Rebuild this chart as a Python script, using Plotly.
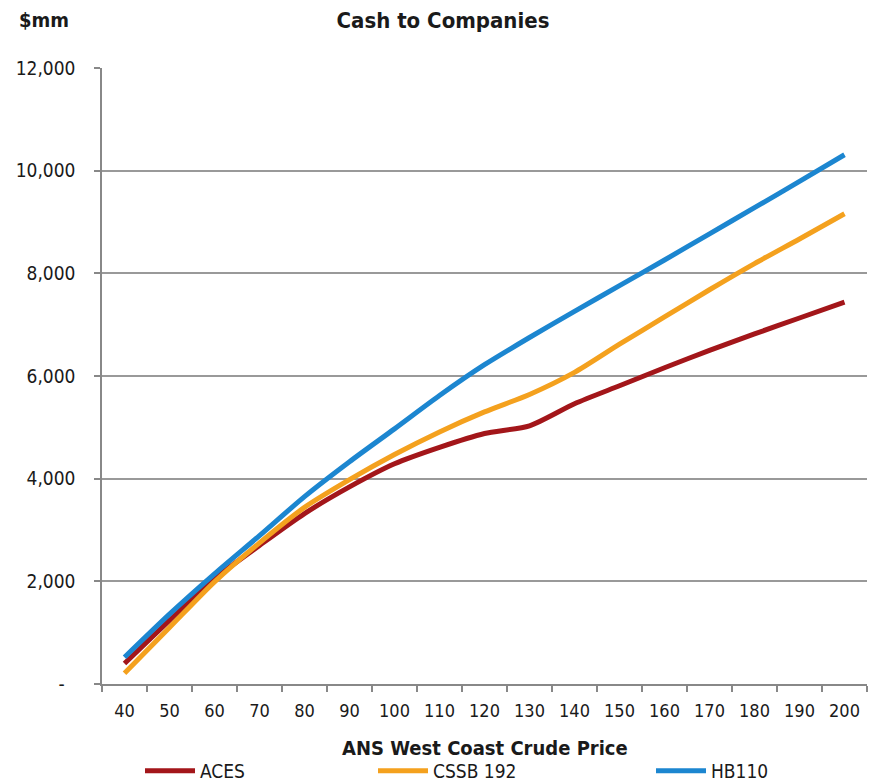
import plotly.graph_objects as go

categories = [40, 50, 60, 70, 80, 90, 100, 110, 120, 130, 140, 150, 160, 170, 180, 190, 200]
aces = [400, 1240, 2050, 2700, 3320, 3840, 4290, 4610, 4880, 5030, 5460, 5810, 6160, 6500, 6820, 7130, 7440]
cssb192 = [210, 1100, 1990, 2750, 3440, 3980, 4470, 4910, 5300, 5640, 6070, 6620, 7150, 7680, 8190, 8670, 9160]
hb110 = [520, 1360, 2145, 2890, 3650, 4330, 4970, 5620, 6220, 6750, 7260, 7760, 8260, 8770, 9280, 9790, 10310]
y_ticks = [0, 2000, 4000, 6000, 8000, 10000, 12000]
y_ticktext = ["-\u00a0\u00a0", "2,000", "4,000", "6,000", "8,000", "10,000", "12,000"]

FONT = "Liberation Sans Narrow, Arial Narrow, DejaVu Sans Condensed, sans-serif"
W, H = 873, 784
L, R, T, B = 102, 6, 68, 100
TXT = "#1a1a1a"

x_labels = [str(c) for c in categories]
series = [
    ("ACES", aces, "#A3161A", "legend", 140),
    ("CSSB 192", cssb192, "#F4A11E", "legend2", 373),
    ("HB110", hb110, "#1C86D0", "legend3", 651),
]

fig = go.Figure()
for name, vals, color, leg, _ in series:
    fig.add_trace(go.Scatter(
        x=x_labels, y=vals, name=name, mode="lines", legend=leg,
        line=dict(color=color, width=5, shape="spline", smoothing=0.7),
    ))

legend_common = dict(orientation="h", xanchor="left", xref="container", yref="container",
                     y=1 - 771 / H, yanchor="middle", itemwidth=50,
                     font=dict(family=FONT, size=19, color=TXT), bgcolor="rgba(0,0,0,0)")
legends = {}
for name, vals, color, leg, lx in series:
    legends[leg] = dict(legend_common, x=lx / W)

fig.update_layout(
    width=W, height=H,
    margin=dict(l=L, r=R, t=T, b=B, pad=0, autoexpand=False),
    paper_bgcolor="white", plot_bgcolor="white",
    font=dict(family=FONT, size=19, color=TXT),
    title=dict(text="<b>Cash to Companies</b>", x=443 / W, xanchor="center",
               xref="container", yref="container", y=1 - 20 / H, yanchor="middle",
               font=dict(family=FONT, size=22, color=TXT)),
    showlegend=True,
    xaxis=dict(type="category", range=[-0.5, len(categories) - 0.5], tickson="boundaries",
               ticks="outside", ticklen=6, tickcolor="#888888", tickwidth=1.5,
               showline=True, linecolor="#888888", linewidth=1.5, showgrid=False,
               ticklabelstandoff=10, automargin=False,
               tickfont=dict(family=FONT, size=18, color=TXT)),
    yaxis=dict(range=[0, 12000], tickvals=y_ticks, ticktext=y_ticktext, ticks="outside",
               ticklen=6, tickcolor="#888888", tickwidth=1.5, showline=True,
               linecolor="#888888", linewidth=1.5, showgrid=True, gridcolor="#999999",
               gridwidth=1.5, zeroline=False, ticklabelstandoff=15, automargin=False,
               tickfont=dict(family=FONT, size=19, color=TXT)),
    annotations=[
        dict(text="<b>$mm</b>", xref="paper", yref="paper", x=(44 - L) / (W - L - R),
             y=1 + (T - 20) / (H - T - B), xanchor="center", yanchor="middle",
             showarrow=False, font=dict(family=FONT, size=20, color=TXT)),
        dict(text="<b>ANS West Coast Crude Price</b>", xref="paper", yref="paper", x=0.5,
             y=-(748 - (H - B)) / (H - T - B), xanchor="center", yanchor="middle",
             showarrow=False, font=dict(family=FONT, size=20, color=TXT)),
    ],
    **legends,
)

fig.write_html("out.html")
